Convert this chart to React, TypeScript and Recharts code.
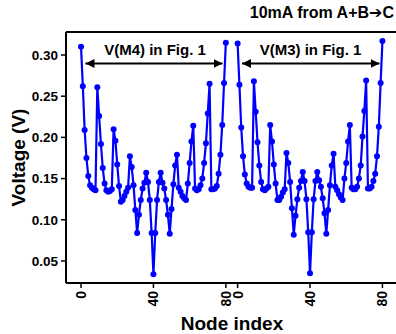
import { Line, LineChart, ReferenceLine, XAxis, YAxis } from 'recharts';

// node voltages along the 9x9 grid
const m4Voltage = [
  0.310, 0.262, 0.209, 0.175, 0.153, 0.142, 0.139, 0.137, 0.136,
  0.261, 0.226, 0.192, 0.163, 0.144, 0.136, 0.134, 0.135, 0.137,
  0.210, 0.196, 0.167, 0.141, 0.122, 0.124, 0.129, 0.134, 0.139,
  0.177, 0.164, 0.142, 0.112, 0.084, 0.106, 0.124, 0.138, 0.145,
  0.157, 0.146, 0.124, 0.084, 0.034, 0.084, 0.124, 0.146, 0.157,
  0.145, 0.138, 0.124, 0.106, 0.083, 0.113, 0.143, 0.166, 0.179,
  0.139, 0.134, 0.129, 0.126, 0.124, 0.144, 0.169, 0.195, 0.214,
  0.138, 0.136, 0.137, 0.142, 0.150, 0.169, 0.193, 0.229, 0.265,
  0.137, 0.137, 0.138, 0.141, 0.156, 0.179, 0.215, 0.266, 0.315,
];

const m3Voltage = [
  0.314, 0.264, 0.212, 0.177, 0.155, 0.144, 0.140, 0.139, 0.139,
  0.268, 0.231, 0.194, 0.166, 0.146, 0.137, 0.136, 0.138, 0.140,
  0.215, 0.195, 0.167, 0.144, 0.124, 0.124, 0.128, 0.133, 0.137,
  0.181, 0.169, 0.146, 0.114, 0.082, 0.105, 0.125, 0.139, 0.147,
  0.158, 0.147, 0.125, 0.085, 0.035, 0.085, 0.125, 0.147, 0.158,
  0.148, 0.140, 0.126, 0.108, 0.083, 0.112, 0.142, 0.166, 0.180,
  0.140, 0.136, 0.131, 0.127, 0.124, 0.150, 0.169, 0.195, 0.215,
  0.139, 0.137, 0.137, 0.140, 0.150, 0.166, 0.201, 0.232, 0.269,
  0.138, 0.138, 0.140, 0.147, 0.156, 0.177, 0.213, 0.266, 0.317,
];

const nodeTicks = [0, 40, 80];
const voltageTicks = [0.05, 0.1, 0.15, 0.2, 0.25, 0.3];
const SECOND_OFFSET = 86.5;
const Y_TOP = 0.3279;

const m4Data = m4Voltage.map((v, i) => ({ node: i, v }));
const m3Data = m3Voltage.map((v, i) => ({ node: i + SECOND_OFFSET, v }));
const xTicks = [...nodeTicks, ...nodeTicks.map((t) => t + SECOND_OFFSET)];

const FONT = '"Liberation Sans", Arial, sans-serif';
const BLUE = '#0000ff';

function NodeTick(props: any) {
  const { x, y, payload } = props;
  const v = payload.value >= SECOND_OFFSET ? payload.value - SECOND_OFFSET : payload.value;
  const ty = y + 1;
  return (
    <text
      x={x}
      y={ty}
      dy="0.35em"
      transform={`rotate(-90, ${x}, ${ty})`}
      textAnchor="end"
      fontFamily={FONT}
      fontWeight="bold"
      fontSize={14}
      fill="#000"
    >
      {Math.round(v)}
    </text>
  );
}

export default function App() {
  return (
    <div style={{ position: 'absolute', left: 0, top: 0, width: 396, height: 334, overflow: 'hidden', background: '#fff' }}>
      <LineChart width={400} height={334} margin={{ top: 32, right: 2, bottom: 0, left: 0 }}>
        <XAxis
          type="number"
          dataKey="node"
          domain={[-8.3, 175.1]}
          allowDataOverflow
          ticks={xTicks}
          interval={0}
          tick={<NodeTick />}
          tickSize={5}
          height={51}
          axisLine={{ stroke: '#000', strokeWidth: 2 }}
          tickLine={{ stroke: '#000', strokeWidth: 1.5 }}
          label={{ value: 'Node index', position: 'insideBottom', offset: 4, fontFamily: FONT, fontWeight: 'bold', fontSize: 19, fill: '#000' }}
        />
        <YAxis
          type="number"
          domain={[0.0233, Y_TOP]}
          allowDataOverflow
          ticks={voltageTicks}
          interval={0}
          tickFormatter={(v: number) => v.toFixed(2)}
          tickSize={5}
          tickMargin={3}
          width={66}
          axisLine={{ stroke: '#000', strokeWidth: 2 }}
          tickLine={{ stroke: '#000', strokeWidth: 1.5 }}
          tick={{ fontFamily: FONT, fontWeight: 'bold', fontSize: 13.5, fill: '#000' }}
        />
        <ReferenceLine y={Y_TOP} stroke="#000" strokeWidth={2} />
        <Line
          data={m4Data}
          dataKey="v"
          type="linear"
          stroke={BLUE}
          strokeWidth={2.2}
          dot={{ r: 3, fill: BLUE, stroke: BLUE, strokeWidth: 0 }}
          isAnimationActive={false}
        />
        <Line
          data={m3Data}
          dataKey="v"
          type="linear"
          stroke={BLUE}
          strokeWidth={2.2}
          dot={{ r: 3, fill: BLUE, stroke: BLUE, strokeWidth: 0 }}
          isAnimationActive={false}
        />
      </LineChart>
      <svg width={396} height={334} style={{ position: 'absolute', left: 0, top: 0, pointerEvents: 'none' }}>
        <defs>
          <marker id="head" markerUnits="userSpaceOnUse" markerWidth={10} markerHeight={9} refX={9} refY={4.5} orient="auto-start-reverse">
            <path d="M0,0 L9,4.5 L0,9 z" fill="#000" />
          </marker>
        </defs>
        <text x={394} y={18} textAnchor="end" fontFamily={FONT} fontWeight="bold" fontSize={16} fill="#000">
          10mA from A+B<tspan fontFamily="DejaVu Sans" fontSize={16}>➔</tspan>C
        </text>
        <text
          x={18}
          y={157.5}
          dy="0.35em"
          transform="rotate(-90, 18, 157.5)"
          textAnchor="middle"
          fontFamily={FONT}
          fontWeight="bold"
          fontSize={19}
          fill="#000"
        >
          Voltage (V)
        </text>
        <text x={155} y={55} textAnchor="middle" fontFamily={FONT} fontWeight="bold" fontSize={15} fill="#000">
          V(M4) in Fig. 1
        </text>
        <text x={310.5} y={55} textAnchor="middle" fontFamily={FONT} fontWeight="bold" fontSize={15} fill="#000">
          V(M3) in Fig. 1
        </text>
        <line x1={85.5} y1={63.5} x2={222.5} y2={63.5} stroke="#000" strokeWidth={2} markerStart="url(#head)" markerEnd="url(#head)" />
        <line x1={242} y1={63.5} x2={379.5} y2={63.5} stroke="#000" strokeWidth={2} markerStart="url(#head)" markerEnd="url(#head)" />
      </svg>
    </div>
  );
}
